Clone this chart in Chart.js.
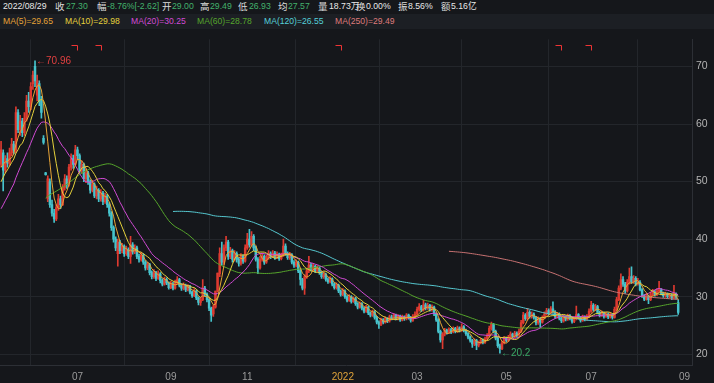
<!DOCTYPE html>
<html>
<head>
<meta charset="utf-8">
<script src="https://cdn.jsdelivr.net/npm/chart.js@4/dist/chart.umd.min.js"></script>
<style>
html, body { margin: 0; padding: 0; width: 714px; height: 383px; overflow: hidden; background: #15171b; }
body { position: relative; font-family: "Liberation Sans", Arial, "Noto Sans CJK SC", sans-serif; font-size: 8.7px; }
#info { position: absolute; left: 0; top: 0; width: 714px; height: 14px; }
#legend { position: absolute; left: 0; top: 14px; width: 714px; height: 15px; background: #1c1f24; }
#info span, #legend span { position: absolute; white-space: nowrap; }
#info span { top: 0; line-height: 13px; }
#legend span { top: 0; line-height: 15px; font-size: 8.6px; }
.k { color: #dcdcdc; font-size: 9.5px; }
.g { color: #43b26c; }
.w { color: #e8e8e8; }
#wrap { position: absolute; left: 0; top: 29px; width: 714px; height: 354px; }
</style>
</head>
<body>
<div id="info">
  <span class="w" style="left:3px">2022/08/29</span>
  <span class="k" style="left:55px">收</span><span class="g" style="left:66px">27.30</span>
  <span class="k" style="left:97px">幅</span><span class="g" style="left:107px">-8.76%[-2.62]</span>
  <span class="k" style="left:162px">开</span><span class="g" style="left:172px">29.00</span>
  <span class="k" style="left:200px">高</span><span class="g" style="left:210px">29.49</span>
  <span class="k" style="left:238px">低</span><span class="g" style="left:249px">26.93</span>
  <span class="k" style="left:278px">均</span><span class="g" style="left:288px">27.57</span>
  <span class="k" style="left:318px">量</span><span class="w" style="left:329px">18.73万</span>
  <span class="k" style="left:356px">换</span><span class="w" style="left:366px">0.00%</span>
  <span class="k" style="left:398px">振</span><span class="w" style="left:408px">8.56%</span>
  <span class="k" style="left:441px">额</span><span class="w" style="left:451px">5.16亿</span>
</div>
<div id="legend">
  <span style="left:3px;color:#e7a437">MA(5)=29.65</span>
  <span style="left:65px;color:#e6d23c">MA(10)=29.98</span>
  <span style="left:131px;color:#d14bd4">MA(20)=30.25</span>
  <span style="left:197px;color:#56a52c">MA(60)=28.78</span>
  <span style="left:264px;color:#56d0d9">MA(120)=26.55</span>
  <span style="left:335px;color:#de7b7b">MA(250)=29.49</span>
</div>
<div id="wrap"><canvas id="kline" width="714" height="354"></canvas></div>
<script>
// closes of the sessions before the visible window (only feed the moving averages)
const preCloses = [30.5, 31.2, 32, 31.6, 32.8, 33.5, 33, 34.2, 35, 34.6, 35.8, 36.4, 35.9, 36.8, 37.5, 37, 38.2, 38.8, 39.4,
    38.6, 39.5, 40.2, 39.4, 40.8, 41.5, 40.6, 41.2, 42.4, 41.8,
    44.5, 46.2, 47.8, 48.5, 50.1, 49.6, 51.8, 53.2, 52.5];

const opens = [
    53, 55, 52, 54, 53.2, 55, 56.5, 55.5, 62, 59,
    60.5, 58.5, 61, 64, 63, 67, 70, 65, 67, 64,
    57.5, 51.5, 47, 50, 46, 44.5, 43.5, 45.5, 47, 46,
    49, 50.5, 49.5, 52.5, 54, 53, 55.5, 54.5, 52, 53,
    50.5, 51.5, 50, 48.5, 49.5, 47.5, 48.5, 47, 48, 46.5,
    47.5, 46, 44.5, 42, 40, 37.5, 39.5, 38, 38.8, 37.5,
    38.2, 37, 39, 37.8, 38.5, 37, 36.5, 37.2, 36, 35,
    35.6, 34.2, 33.5, 34.2, 33.2, 34, 32.8, 32.2, 33, 32.4,
    31.6, 32.3, 31.5, 32.5, 33, 32, 31.5, 32, 31.2, 31.8,
    30.8, 30.2, 31, 29.8, 29, 29.5, 31.5, 30.5, 29.5, 28,
    27, 28.2, 31, 34, 37.5, 36, 38.5, 39.5, 37, 38,
    36.5, 37.5, 36.5, 35.8, 37, 36.2, 38.5, 40, 39, 40.5,
    38.5, 36.5, 35, 36.5, 37, 36, 36.8, 37.5, 37, 37.6,
    36.8, 37.4, 36.6, 37.2, 38.8, 37.5, 36.8, 37.3, 36, 35.5,
    36, 34.5, 33, 31.5, 33.5, 34.5, 35.5, 34.8, 35.3, 34.5,
    35, 34.2, 33.5, 33.9, 33, 32.6, 33.1, 32.2, 31.6, 32,
    31, 30.4, 31, 30, 29.4, 30, 29.2, 29.7, 28.8, 28.2,
    28.8, 28, 27.5, 28.2, 27.2, 26.8, 27.4, 26.4, 25.6, 25.2,
    26, 25.6, 26.2, 25.8, 26.5, 26.3, 26.8, 26.2, 26.6, 26,
    26.5, 26.2, 26.8, 26.4, 25.9, 26.6, 27, 27.8, 28.3, 27.7,
    28.6, 28, 28.5, 27.8, 28.2, 27, 26, 24, 22.5, 23.5,
    24.2, 23.8, 24.3, 23.9, 24.5, 24, 24.6, 24.2, 24.8, 24.2,
    23.6, 23, 22.4, 21.8, 22.4, 21.6, 22, 22.5, 22.1, 22.7,
    23.2, 24.5, 25.2, 24, 22.8, 21.5, 21, 22, 22.8, 22.4,
    23, 23.5, 23.1, 23.7, 23.3, 24, 25.5, 26.8, 26.2, 27.3,
    26.6, 27, 26.4, 25.5, 26.2, 25.6, 26.4, 27, 27.6, 27.2,
    27.9, 27.4, 26.6, 27, 26.3, 25.8, 26.5, 26.1, 26.7, 26.3,
    25.7, 26.2, 26.9, 26.4, 25.9, 26.5, 26.1, 26.6, 27.5, 28.5,
    27.8, 28.3, 27.3, 26.8, 27.2, 26.6, 27, 26.5, 26.9, 26.4,
    27.8, 29.5, 31.5, 33, 32.2, 31, 32.5, 33.5, 32.6, 33.2,
    32.2, 32.5, 31.2, 30.2, 29.6, 30.1, 29.5, 30.4, 30.9, 30.4,
    31, 31.2, 30.6, 30.2, 30.5, 30, 30.3, 29.8, 30.5, 29
];
const highs = [
    57, 55.5, 54.5, 55, 55.8, 57.5, 57, 63, 62.5, 61.5,
    61, 62, 65, 65.5, 67.2, 69.2, 70.96, 68.5, 67.5, 64.8,
    58, 51.6, 51, 50.5, 46.8, 45.2, 46, 47.8, 47.5, 49.5,
    51.2, 51, 53, 54.8, 54.6, 56.3, 56, 54.8, 53.6, 53.2,
    52.2, 51.8, 50.3, 50.2, 49.8, 49.2, 48.8, 48.6, 48.3, 48,
    47.8, 46.3, 44.8, 42.3, 40.4, 40, 39.8, 39.3, 39, 38.8,
    38.5, 40.5, 39.4, 39, 38.8, 37.4, 37.7, 37.5, 36.3, 36,
    35.8, 34.5, 34.7, 34.4, 34.5, 34.2, 33.1, 33.4, 33.3, 32.6,
    32.7, 32.5, 32.9, 33.5, 33.2, 32.3, 32.4, 32.2, 32.1, 32,
    31, 31.4, 31.2, 30, 29.9, 33, 31.8, 30.7, 29.7, 28.2,
    28.5, 31, 34.1, 38.5, 39.5, 39, 40.5, 39.8, 38.6, 38.3,
    38, 37.8, 36.8, 37.5, 37.3, 39, 41, 41.7, 41.3, 40.8,
    38.8, 36.8, 37, 37.6, 37.3, 37.2, 38, 37.8, 38, 37.9,
    37.8, 37.6, 37.6, 40, 39.2, 37.8, 37.7, 37.5, 36.3, 36.4,
    36.2, 34.8, 33.2, 33.8, 35, 37, 35.8, 35.7, 35.5, 35.4,
    35.2, 34.4, 34.3, 34.1, 33.3, 33.5, 33.3, 32.4, 32.4, 32.2,
    31.2, 31.4, 31.2, 30.2, 30.4, 30.2, 30, 29.9, 29, 29.1,
    29, 28.2, 28.5, 28.4, 27.4, 27.7, 27.6, 26.6, 25.8, 26.3,
    26.2, 26.5, 26.4, 26.8, 26.8, 27.1, 27, 26.9, 26.8, 26.8,
    26.7, 27.1, 27, 26.6, 26.9, 27.4, 28.2, 28.8, 28.5, 29.4,
    28.9, 28.9, 28.7, 28.6, 28.4, 27.2, 26.2, 24.2, 23.8, 24.5,
    24.4, 24.6, 24.5, 24.8, 24.7, 24.9, 24.8, 25.3, 25, 24.4,
    23.8, 23.2, 22.6, 22.7, 22.6, 22.3, 22.8, 22.7, 23, 23.6,
    24.9, 25.6, 25.4, 24.2, 23, 21.8, 22.3, 23.1, 23, 23.3,
    23.9, 23.7, 24, 23.9, 24.4, 25.9, 27.3, 27.1, 28, 27.6,
    27.4, 27.2, 26.6, 26.5, 26.4, 26.7, 27.4, 28, 27.9, 28.3,
    29.1, 27.6, 27.3, 27.2, 26.5, 26.8, 26.7, 27, 26.9, 26.5,
    26.5, 28.4, 27.1, 26.6, 26.8, 26.7, 26.9, 27.9, 29.2, 28.8,
    28.7, 28.5, 27.5, 27.5, 27.4, 27.3, 27.2, 27.2, 27.1, 28.2,
    29.9, 31.9, 34, 33.5, 32.5, 33, 35, 35.2, 33.7, 33.5,
    33.2, 32.8, 31.4, 30.4, 30.5, 30.3, 30.8, 31.3, 31.1, 31.4,
    32.7, 31.4, 30.8, 30.8, 30.7, 30.6, 30.5, 32, 30.7, 29.49
];
const lows = [
    52.5, 48.4, 51.5, 52.5, 52.8, 54.5, 54.8, 55, 58.5, 58,
    57.8, 58, 60.5, 62, 62.5, 66, 66.5, 64, 63.2, 61,
    56.5, 51.1, 46.5, 45.5, 44, 42.9, 43.2, 45, 45.3, 45.8,
    48.5, 48.8, 49.2, 52, 52.3, 52.8, 53.8, 51.5, 51.4, 50,
    49.8, 49.5, 48, 48.2, 47.2, 47, 46.5, 46.6, 46, 46.2,
    45.5, 44, 41.5, 39.5, 38, 35.3, 37.5, 37.6, 37, 37.2,
    36.6, 35.8, 37.4, 37.5, 36.6, 36, 36.2, 35.6, 34.6, 34.7,
    33.8, 33.1, 33.2, 32.8, 33, 32.4, 31.9, 32, 32.1, 31.3,
    31.4, 31.2, 31.3, 32.2, 31.7, 31.1, 31.2, 30.9, 31, 30.5,
    29.9, 30, 29.5, 28.6, 28.5, 29.3, 30.1, 29.1, 27.6, 25.7,
    26.6, 28, 30.8, 33.5, 35.5, 35.6, 38, 36.5, 36.6, 36,
    36.2, 36, 35.3, 35.5, 35.8, 36, 38.2, 38.6, 38.8, 38,
    36.2, 34, 34.8, 36.2, 35.6, 35.8, 36.5, 36.6, 36.8, 36.5,
    36.6, 36.3, 36.4, 37, 37.2, 36.5, 36.5, 35.7, 35.1, 35.2,
    34.2, 32, 31.2, 30.4, 33.2, 34.2, 34.5, 34.5, 34.2, 34.3,
    33.9, 33.2, 33.2, 32.7, 32.3, 32.4, 31.9, 31.3, 31.3, 30.7,
    30.1, 30.2, 29.7, 29.1, 29.2, 28.9, 29, 28.5, 27.9, 28,
    27.7, 27.2, 27.3, 26.9, 26.5, 26.6, 26.1, 25.3, 24.5, 25,
    25.3, 25.4, 25.5, 25.6, 26, 26.1, 26, 26, 25.7, 25.8,
    25.9, 26, 26.1, 25.6, 25.7, 26.4, 26.8, 27.5, 27.4, 27.5,
    27.7, 27.8, 27.5, 27.5, 26.7, 25.7, 23.7, 22.1, 21, 23.2,
    23.5, 23.6, 23.6, 23.7, 23.7, 23.8, 23.9, 24, 23.9, 23.3,
    22.7, 22.1, 21.2, 21.5, 20.8, 21.3, 21.8, 21.8, 21.9, 22.5,
    23, 24.2, 23.7, 22.5, 21.2, 20.2, 20.8, 21.8, 22.1, 22.2,
    22.8, 22.8, 22.9, 23, 23.1, 23.8, 25.3, 25.9, 26, 26.3,
    26.3, 26.1, 25.1, 25.2, 24.7, 25.4, 26.2, 26.8, 26.9, 27,
    27.1, 26.3, 26.3, 26, 25.5, 25.6, 25.8, 25.9, 26, 25.4,
    25.5, 26, 26.1, 25.6, 25.7, 25.8, 25.9, 26.4, 27.3, 27.5,
    27.6, 27, 26.5, 26.6, 26.3, 26.4, 26.2, 26.3, 26.1, 26.3,
    27.6, 29.3, 31.2, 31.8, 30.6, 30.8, 32.2, 32.3, 32.3, 31.9,
    32, 31, 29.9, 29.3, 29.4, 28.8, 29.3, 30.2, 30.1, 30.2,
    30.8, 30.3, 29.9, 29.9, 29.7, 29.8, 29.5, 29.6, 29.6, 26.93
];
const closes = [
    55.5, 52, 54, 53.2, 55, 56.5, 55.5, 62, 59, 60.5,
    58.5, 61, 64, 63, 66.5, 68.5, 67.5, 67.5, 64, 62,
    56.8, 51.2, 50.5, 46, 44.5, 43.5, 45.5, 47, 46, 49,
    50.5, 49.5, 52.5, 54, 53, 55.5, 54.5, 52, 53, 50.5,
    51.5, 50, 48.5, 49.5, 47.5, 48.5, 47, 48, 46.5, 47.5,
    46, 44.5, 42, 40, 38.5, 39.5, 38, 38.8, 37.5, 38.2,
    37, 39, 37.8, 38.5, 37, 36.5, 37.2, 36, 35, 35.6,
    34.2, 33.5, 34.2, 33.2, 34, 32.8, 32.2, 33, 32.4, 31.6,
    32.3, 31.5, 32.5, 33, 32, 31.5, 32, 31.2, 31.8, 30.8,
    30.2, 31, 29.8, 29, 29.5, 31.5, 30.5, 29.5, 28, 26.8,
    28.2, 31, 34.1, 37.5, 36, 38.5, 39.5, 37, 38, 36.5,
    37.5, 36.5, 35.8, 37, 36.2, 38.5, 40, 39, 40.5, 38.5,
    36.5, 35, 36.5, 37, 36, 36.8, 37.5, 37, 37.6, 36.8,
    37.4, 36.6, 37.2, 38.8, 37.5, 36.8, 37.3, 36, 35.5, 36,
    34.5, 33, 31.5, 33.5, 34.5, 35.5, 34.8, 35.3, 34.5, 35,
    34.2, 33.5, 33.9, 33, 32.6, 33.1, 32.2, 31.6, 32, 31,
    30.4, 31, 30, 29.4, 30, 29.2, 29.7, 28.8, 28.2, 28.8,
    28, 27.5, 28.2, 27.2, 26.8, 27.4, 26.4, 25.6, 25.2, 26,
    25.6, 26.2, 25.8, 26.5, 26.3, 26.8, 26.2, 26.6, 26, 26.5,
    26.2, 26.8, 26.4, 25.9, 26.6, 27, 27.8, 28.3, 27.7, 28.6,
    28, 28.5, 27.8, 28.2, 27, 26, 24, 22.5, 23.5, 24.2,
    23.8, 24.3, 23.9, 24.5, 24, 24.6, 24.2, 24.8, 24.2, 23.6,
    23, 22.4, 21.8, 22.4, 21.6, 22, 22.5, 22.1, 22.7, 23.2,
    24.5, 25.2, 24, 22.8, 21.5, 21, 22, 22.8, 22.4, 23,
    23.5, 23.1, 23.7, 23.3, 24, 25.5, 26.8, 26.2, 27.3, 26.6,
    27, 26.4, 25.5, 26.2, 25.6, 26.4, 27, 27.6, 27.2, 27.9,
    27.4, 26.6, 27, 26.3, 25.8, 26.5, 26.1, 26.7, 26.3, 25.7,
    26.2, 26.9, 26.4, 25.9, 26.5, 26.1, 26.6, 27.5, 28.5, 27.8,
    28.3, 27.3, 26.8, 27.2, 26.6, 27, 26.5, 26.9, 26.4, 27.8,
    29.5, 31.5, 33, 32.2, 31, 32.5, 33.5, 32.6, 33.2, 32.2,
    32.5, 31.2, 30.2, 29.6, 30.1, 29.5, 30.4, 30.9, 30.4, 31,
    31.2, 30.6, 30.2, 30.5, 30, 30.3, 29.8, 30.5, 29.92, 27.3
];

// x axis: trading-day slot of each month start, and its label
const monthIdx = [36, 80, 116, 161, 196, 238, 278, 322];
const monthText = ['07', '09', '11', '2022', '03', '05', '07', '09'];
const priceTicks = [20, 30, 40, 50, 60, 70];
// red corner flags above the candles
const flagIdx = [36, 47, 160, 264, 278];

const maPeriods = [5, 10, 20, 60, 120, 250];
const maColors = ['#e7a437', '#e6d23c', '#d14bd4', '#56a52c', '#56c8d0', '#c87272'];

const UP = '#dd3a30';
const DOWN = '#46c3cc';

const full = preCloses.concat(closes);
const off = preCloses.length;

function movingAvg(n) {
    return closes.map((_, i) => {
        const end = i + off;
        if (end - n + 1 < 0) return null;
        let s = 0;
        for (let k = end - n + 1; k <= end; k++) s += full[k];
        return s / n;
    });
}

const candleColor = closes.map((c, i) => (c >= opens[i] ? UP : DOWN));
const slots = Array.from({ length: closes.length + 6 }, (_, i) => i);

const overlay = {
    id: 'overlay',
    afterDraw(chart) {
        const { ctx, chartArea, scales: { x, y } } = chart;
        ctx.save();
        ctx.strokeStyle = '#ee3434';
        ctx.lineWidth = 1;
        ctx.setLineDash([]);
        const slotW = chartArea.width / slots.length;
        ctx.beginPath();
        flagIdx.forEach(i => {
            const px = Math.round(chartArea.left + (i + 0.5) * slotW) + 0.5;
            const py = Math.round(chartArea.top) + 6.5;
            ctx.moveTo(px - 6, py);
            ctx.lineTo(px, py);
            ctx.lineTo(px, py + 5);
        });
        ctx.stroke();

        let hi = 0, lo = 0;
        highs.forEach((v, i) => { if (v > highs[hi]) hi = i; });
        lows.forEach((v, i) => { if (v < lows[lo]) lo = i; });
        ctx.font = '10px "Liberation Sans", Arial, sans-serif';
        ctx.textBaseline = 'middle';
        ctx.textAlign = 'left';
        ctx.fillStyle = '#e04040';
        ctx.fillText('\u2190' + highs[hi], x.getPixelForValue(hi) + 1, y.getPixelForValue(highs[hi]));
        ctx.fillStyle = '#3aa865';
        ctx.fillText('\u2190' + lows[lo], x.getPixelForValue(lo) + 1, y.getPixelForValue(lows[lo]));
        ctx.restore();
    }
};

const datasets = [
    {
        type: 'bar',
        data: closes.map((_, i) => [lows[i], highs[i]]),
        backgroundColor: candleColor,
        barThickness: 1,
        grouped: false,
        order: 2
    },
    {
        type: 'bar',
        data: closes.map((c, i) => [opens[i], c]),
        backgroundColor: candleColor,
        barThickness: 1.8,
        minBarLength: 1,
        grouped: false,
        order: 1
    }
];
maPeriods.forEach((n, k) => {
    datasets.push({
        type: 'line',
        data: movingAvg(n),
        borderColor: maColors[k],
        borderWidth: 1,
        pointRadius: 0,
        tension: 0,
        fill: false,
        order: 0
    });
});

new Chart(document.getElementById('kline').getContext('2d'), {
    data: { labels: slots, datasets },
    options: {
        responsive: false,
        animation: false,
        devicePixelRatio: 1,
        events: [],
        layout: { padding: 0 },
        plugins: { legend: { display: false }, tooltip: { enabled: false } },
        scales: {
            x: {
                type: 'category',
                offset: true,
                grid: { color: '#23262b', drawTicks: false },
                border: { color: '#2c2f35' },
                ticks: {
                    autoSkip: false,
                    maxRotation: 0,
                    padding: 6,
                    font: { family: "'Liberation Sans', Arial, sans-serif", size: 10 },
                    color: ctx => (ctx.tick && ctx.tick.label === '2022' ? '#e0a33a' : '#9c9c9c'),
                    callback: (v, i) => {
                        const k = monthIdx.indexOf(i);
                        return k < 0 ? null : monthText[k];
                    }
                },
                afterFit: s => { s.height = 18; }
            },
            y: {
                position: 'right',
                min: 18.15,
                max: 74.71,
                afterBuildTicks: s => { s.ticks = priceTicks.map(v => ({ value: v })); },
                grid: { color: '#23262b', drawTicks: false },
                border: { color: '#2c2f35' },
                ticks: {
                    padding: 4,
                    font: { family: "'Liberation Sans', Arial, sans-serif", size: 10.5 },
                    color: '#b4b4b4'
                },
                afterFit: s => { s.width = 22; }
            }
        }
    },
    plugins: [overlay]
});
</script>
</body>
</html>
